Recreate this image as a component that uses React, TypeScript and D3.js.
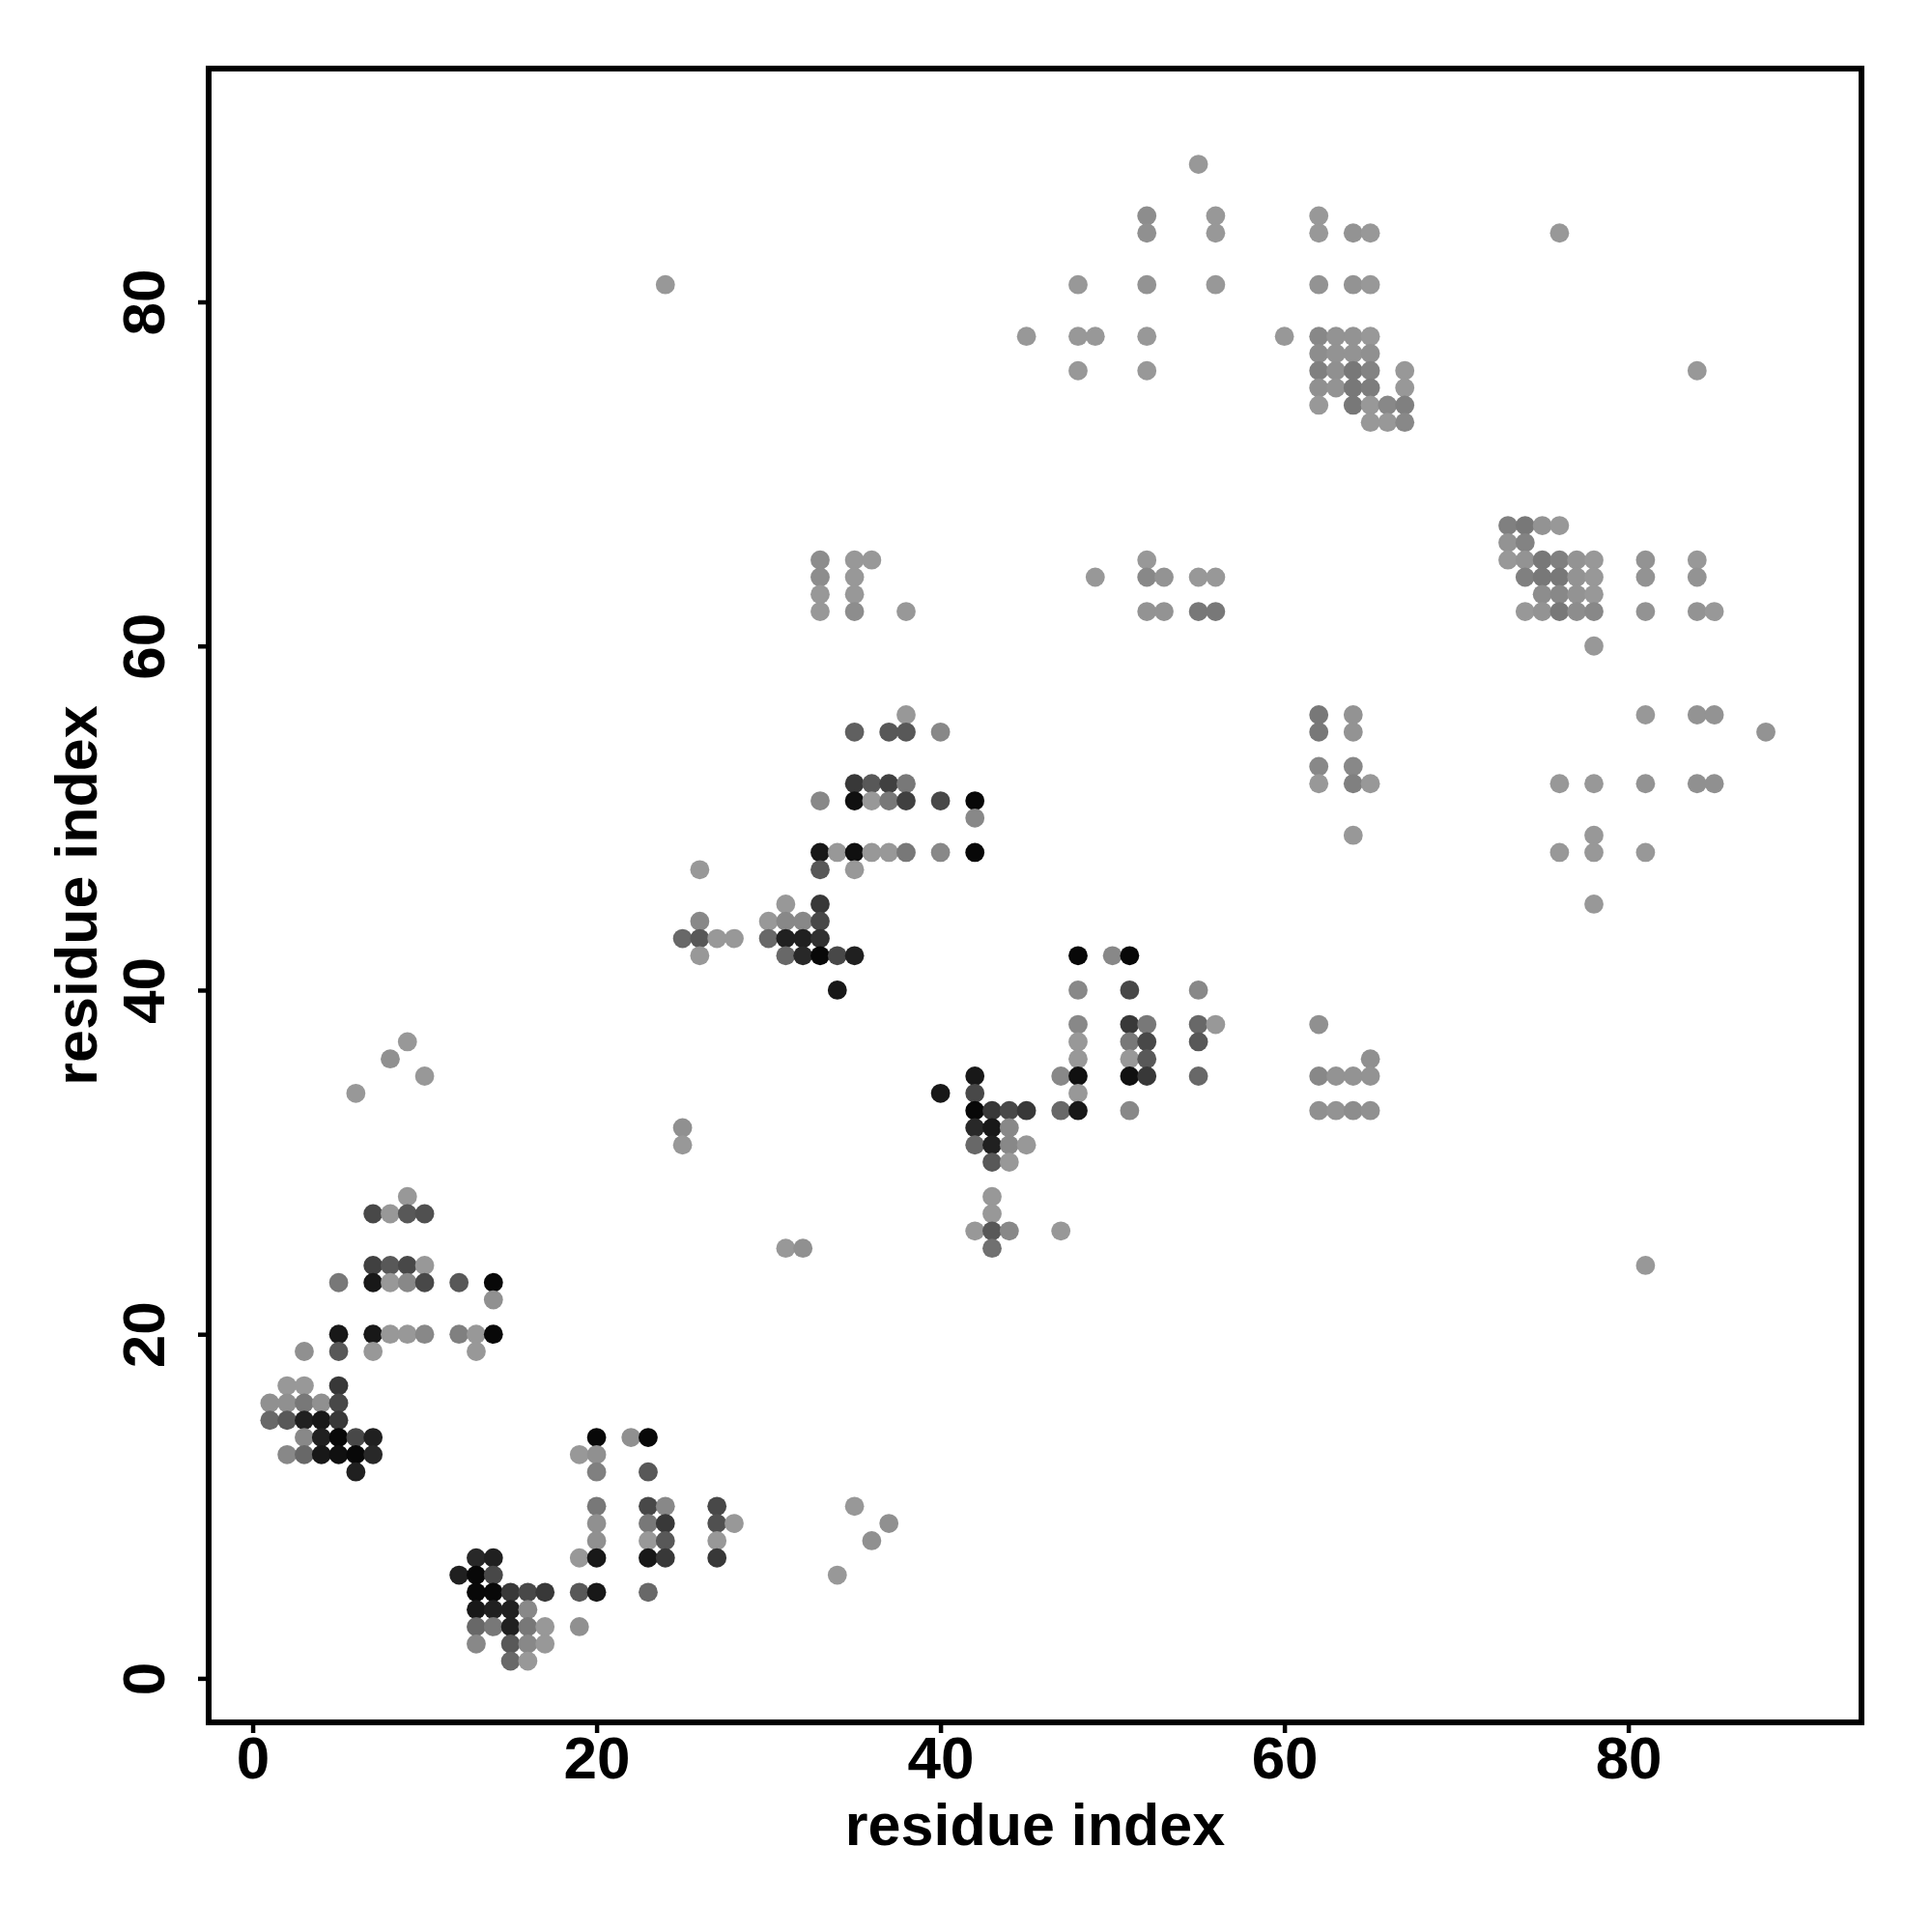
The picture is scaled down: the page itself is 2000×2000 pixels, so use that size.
import React, { useEffect, useRef } from 'react';
import * as d3 from 'd3';

// contacts: [residue i, residue j, contact score 0..1]
const nResidues = 90;
const tickValues = [0, 20, 40, 60, 80];
const axisTitle = 'residue index';

const nTermContacts = [
    [5, 20, .85], [7, 20, .85], [8, 20, .05], [9, 20, .05], [10, 20, .15], [12, 20, .2], [13, 20, .05], [14, 20, .95],
    [3, 19, .1], [5, 19, .45], [7, 19, .05], [13, 19, .05],
    [2, 17, .05], [3, 17, .05], [5, 17, .65],
    [1, 16, .1], [2, 16, .1], [3, 16, .25], [4, 16, .1], [5, 16, .55],
    [1, 15, .35], [2, 15, .45], [3, 15, .8], [4, 15, .85], [5, 15, .65],
    [3, 14, .15], [4, 14, .8], [5, 14, .95], [6, 14, .55], [7, 14, .8],
    [2, 13, .15], [3, 13, .35], [4, 13, .85], [5, 13, .9], [6, 13, .95], [7, 13, .75],
    [6, 12, .8],
    [9, 37, .05], [8, 36, .1], [10, 35, .05], [6, 34, .05], [9, 28, .05],
    [7, 27, .55], [8, 27, .05], [9, 27, .45], [10, 27, .5],
    [7, 24, .6], [8, 24, .45], [9, 24, .55], [10, 24, .05],
    [5, 23, .25], [7, 23, .85], [8, 23, .05], [9, 23, .15], [10, 23, .55], [12, 23, .45], [14, 23, .95],
    [14, 22, .1],
];

const hairpinContacts = [
    [13, 7, .75], [14, 7, .8], [12, 6, .8], [13, 6, .95], [14, 6, .55],
    [13, 5, .95], [14, 5, .95], [15, 5, .65], [16, 5, .55], [17, 5, .65],
    [13, 4, .85], [14, 4, .8], [15, 4, .8], [16, 4, .15],
    [13, 3, .35], [14, 3, .25], [15, 3, .8], [16, 3, .25], [17, 3, .05],
    [13, 2, .15], [15, 2, .45], [16, 2, .15], [17, 2, .05],
    [15, 1, .35], [16, 1, .05],
    [20, 14, .95], [19, 13, .05], [20, 13, .1], [20, 12, .2], [20, 10, .25], [20, 9, .1], [20, 8, .1],
    [19, 7, .05], [20, 7, .85], [19, 5, .45], [20, 5, .85], [19, 3, .1],
    [22, 14, .1], [23, 14, .95], [23, 12, .45],
    [23, 10, .55], [24, 10, .15], [27, 10, .55], [35, 10, .05],
    [23, 9, .25], [24, 9, .65], [27, 9, .5], [28, 9, .05], [37, 9, .1],
    [23, 8, .05], [24, 8, .45], [27, 8, .05], [36, 8, .1],
    [23, 7, .85], [24, 7, .65], [27, 7, .65], [34, 6, .05], [23, 5, .35],
];

const middleContacts = [
    [31, 45, .05], [33, 45, .65],
    [26, 44, .15], [30, 44, .05], [31, 44, .15], [32, 44, .15], [33, 44, .55],
    [25, 43, .35], [26, 43, .45], [27, 43, .05], [28, 43, .05], [30, 43, .35], [31, 43, .8], [32, 43, .8], [33, 43, .7],
    [26, 42, .05], [31, 42, .35], [32, 42, .75], [33, 42, .95], [34, 42, .55], [35, 42, .8],
    [34, 40, .85],
    [25, 32, .1], [25, 31, .05], [31, 25, .05], [32, 25, .1],
    [33, 65, .12], [35, 65, .05], [36, 65, .05],
    [33, 64, .12], [35, 64, .05], [33, 63, .05], [35, 63, .05],
    [33, 62, .05], [35, 62, .12], [38, 62, .05],
    [38, 56, .05],
    [35, 55, .4], [37, 55, .45], [38, 55, .45], [40, 55, .15],
    [35, 52, .65], [36, 52, .45], [37, 52, .6], [38, 52, .25],
    [33, 51, .15], [35, 51, .9], [36, 51, .05], [37, 51, .25], [38, 51, .6], [40, 51, .55], [42, 51, .95],
    [42, 50, .15],
    [33, 48, .85], [34, 48, .05], [35, 48, .9], [36, 48, .05], [37, 48, .05], [38, 48, .25], [40, 48, .15], [42, 48, .95],
    [26, 47, .05], [33, 47, .45], [35, 47, .05],
];

const centralContacts = [
    [48, 42, .95], [50, 42, .15], [51, 42, .95],
    [48, 40, .15], [51, 40, .55], [55, 40, .15],
    [48, 38, .15], [51, 38, .65], [52, 38, .25], [55, 38, .35], [56, 38, .05],
    [48, 37, .05], [51, 37, .25], [52, 37, .55], [55, 37, .45],
    [48, 36, .05], [51, 36, .05], [52, 36, .45],
    [42, 35, .85], [47, 35, .15], [48, 35, .9], [51, 35, .9], [52, 35, .65], [55, 35, .35],
    [40, 34, .85], [42, 34, .55], [48, 34, .05],
    [42, 33, .95], [43, 33, .65], [44, 33, .55], [45, 33, .65], [47, 33, .35], [48, 33, .85], [51, 33, .15],
    [42, 32, .75], [43, 32, .85], [44, 32, .15],
    [42, 31, .35], [43, 31, .8], [44, 31, .15], [45, 31, .05],
    [43, 30, .45], [44, 30, .05],
    [43, 28, .05], [43, 27, .05],
    [42, 26, .05], [43, 26, .45], [44, 26, .15], [47, 26, .05],
    [43, 25, .3],
    [62, 38, .1], [65, 36, .1],
    [62, 35, .15], [63, 35, .08], [64, 35, .08], [65, 35, .08],
    [62, 33, .1], [63, 33, .08], [64, 33, .12], [65, 33, .1],
];

const cTermContacts = [
    [24, 81, .05], [55, 88, .05],
    [52, 85, .12], [56, 85, .05], [62, 85, .05],
    [52, 84, .1], [56, 84, .05], [62, 84, .05], [64, 84, .08], [65, 84, .05],
    [48, 81, .05], [52, 81, .08], [56, 81, .05], [62, 81, .08], [64, 81, .08], [65, 81, .05],
    [45, 78, .05], [48, 78, .05], [49, 78, .05], [52, 78, .05], [60, 78, .05], [62, 78, .15], [63, 78, .08], [64, 78, .08], [65, 78, .05],
    [62, 77, .12], [63, 77, .08], [64, 77, .08], [65, 77, .1],
    [48, 76, .05], [52, 76, .05], [62, 76, .2], [63, 76, .1], [64, 76, .25], [65, 76, .18], [67, 76, .05],
    [62, 75, .1], [63, 75, .08], [64, 75, .25], [65, 75, .22], [67, 75, .05],
    [62, 74, .05], [64, 74, .25], [65, 74, .05], [66, 74, .15], [67, 74, .2],
    [65, 73, .05], [66, 73, .05], [67, 73, .15],
    [76, 84, .05], [84, 76, .05],
    [52, 65, .05], [49, 64, .05], [52, 64, .15], [53, 64, .08], [55, 64, .05], [56, 64, .05],
    [52, 62, .08], [53, 62, .08], [55, 62, .25], [56, 62, .25],
    [62, 56, .25], [64, 56, .08], [62, 55, .25], [64, 55, .08],
    [62, 53, .15], [64, 53, .15], [62, 52, .05], [64, 52, .2], [65, 52, .05], [64, 49, .05],
    [73, 67, .2], [74, 67, .25], [75, 67, .08], [76, 67, .05],
    [73, 66, .08], [74, 66, .18],
    [73, 65, .05], [74, 65, .08], [75, 65, .25], [76, 65, .2], [77, 65, .08], [78, 65, .05], [81, 65, .08], [84, 65, .05],
    [74, 64, .2], [75, 64, .25], [76, 64, .25], [77, 64, .08], [78, 64, .05], [81, 64, .08], [84, 64, .08],
    [75, 63, .12], [76, 63, .15], [77, 63, .08], [78, 63, .05],
    [74, 62, .05], [75, 62, .08], [76, 62, .25], [77, 62, .12], [78, 62, .15], [81, 62, .08], [84, 62, .08], [85, 62, .05],
    [78, 60, .05],
    [81, 56, .05], [84, 56, .08], [85, 56, .08], [88, 55, .08],
    [76, 52, .05], [78, 52, .05], [81, 52, .08], [84, 52, .1], [85, 52, .1],
    [78, 49, .05], [76, 48, .05], [78, 48, .05], [81, 48, .05], [78, 45, .05],
    [81, 24, .05],
];

const ContactMap = () => {
    const ref = useRef(null);

    useEffect(() => {
        const width = 2000;
        const height = 2000;
        const margin = { top: 71, right: 73, bottom: 217, left: 216 };
        const font = '"Liberation Sans", Arial, Helvetica, sans-serif';

        const svg = d3.select(ref.current);
        svg.selectAll('*').remove();
        svg.attr('width', width).attr('height', height);

        // R-style 4% padding around 1..n
        const pad = (nResidues - 1) * 0.04;
        const x = d3.scaleLinear()
            .domain([1 - pad, nResidues + pad])
            .range([margin.left, width - margin.right]);
        const y = d3.scaleLinear()
            .domain([1 - pad, nResidues + pad])
            .range([height - margin.bottom, margin.top]);
        const grey = d3.scaleLinear().domain([0, 1]).range(['#a0a0a0', '#000000']).clamp(true);

        const contacts = [...nTermContacts, ...hairpinContacts, ...middleContacts, ...centralContacts, ...cTermContacts];

        svg.append('g').selectAll('circle').data(contacts).enter()
            .append('circle')
            .attr('cx', (d) => x(d[0]))
            .attr('cy', (d) => y(d[1]))
            .attr('r', 9.9)
            .attr('fill', (d) => grey(d[2]));

        // frame
        svg.append('rect')
            .attr('x', margin.left).attr('y', margin.top)
            .attr('width', width - margin.left - margin.right)
            .attr('height', height - margin.top - margin.bottom)
            .attr('fill', 'none').attr('stroke', '#000').attr('stroke-width', 6);

        // bottom axis
        const xAxis = svg.append('g')
            .attr('transform', `translate(0, ${height - margin.bottom})`)
            .call(d3.axisBottom(x).tickValues(tickValues).tickSize(11).tickPadding(4));
        xAxis.select('.domain').remove();
        xAxis.selectAll('line').attr('stroke-width', 4.5);
        xAxis.selectAll('text')
            .attr('font-family', font).attr('font-weight', 'bold').attr('font-size', 62)
            .attr('dy', null).attr('y', 58);

        // left axis, rotated labels
        const yAxis = svg.append('g')
            .attr('transform', `translate(${margin.left}, 0)`)
            .call(d3.axisLeft(y).tickValues(tickValues).tickSize(11));
        yAxis.select('.domain').remove();
        yAxis.selectAll('line').attr('stroke-width', 4.5);
        yAxis.selectAll('text')
            .attr('font-family', font).attr('font-weight', 'bold').attr('font-size', 62)
            .attr('x', null).attr('dy', null)
            .attr('text-anchor', 'middle')
            .attr('transform', 'translate(-46, 0) rotate(-90)');

        // titles
        svg.append('text')
            .attr('x', (margin.left + width - margin.right) / 2).attr('y', 1910)
            .attr('text-anchor', 'middle')
            .attr('font-family', font).attr('font-weight', 'bold').attr('font-size', 61)
            .text(axisTitle);
        svg.append('text')
            .attr('transform', `translate(100, ${(margin.top + height - margin.bottom) / 2}) rotate(-90)`)
            .attr('text-anchor', 'middle')
            .attr('font-family', font).attr('font-weight', 'bold').attr('font-size', 61)
            .text(axisTitle);
    }, []);

    return <svg ref={ref} style={{ position: 'absolute', left: 0, top: 0, background: '#fff' }} />;
};

export default function App() {
    return <ContactMap />;
}
